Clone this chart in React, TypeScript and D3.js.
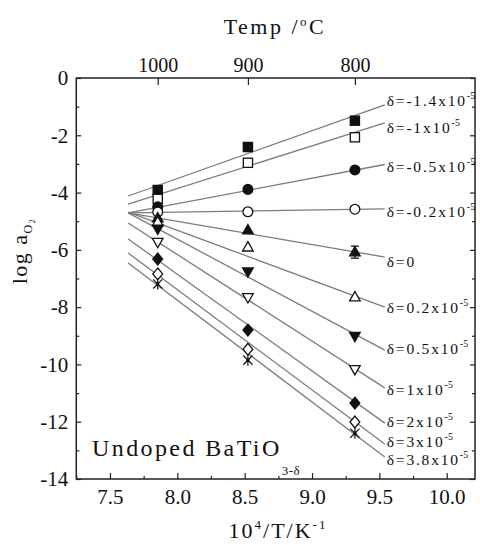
import { useEffect, useRef } from "react";
import * as d3 from "d3";

// Temperatures of the three measurement columns (°C) -> x = 10^4 / T(K)
const tempsC = [1000, 900, 800];

// oxygen non-stoichiometry of each series (x10^-5)
const deltas = ["-1.4", "-1", "-0.5", "-0.2", "0", "0.2", "0.5", "1", "2", "3", "3.8"];
const markerKinds = [
  "squareFilled", "squareOpen", "circleFilled", "circleOpen", "triFilled", "triOpen",
  "invFilled", "invOpen", "diamondFilled", "diamondOpen", "star",
];

// log a(O2), one value per series
const logA1000 = [-3.91, -4.22, -4.5, -4.68, -4.89, -5.03, -5.27, -5.73, -6.32, -6.84, -7.19];
const logA900 = [-2.41, -2.96, -3.89, -4.67, -5.31, -5.91, -6.76, -7.66, -8.8, -9.47, -9.85];
const logA800 = [-1.49, -2.07, -3.21, -4.58, -6.08, -7.65, -9.01, -10.17, -11.35, -12.01, -12.4];
const err800 = [0, 0, 0, 0, 0.21, 0, 0, 0, 0, 0, 0];

// fitted lines: value at the left end and at the right end (where the label sits)
const fitX = [7.635, 9.54];
const fitStart = [-4.12, -4.4, -4.71, -4.71, -4.71, -4.68, -4.71, -5.06, -5.62, -6.11, -6.46];
const fitEnd = [-0.94, -1.57, -3.02, -4.57, -6.25, -8.0, -9.5, -10.82, -12.05, -12.78, -13.23];

const xTicks = [7.5, 8.0, 8.5, 9.0, 9.5, 10.0];
const xMinor = [7.25, 7.75, 8.25, 8.75, 9.25, 9.75];
const yTicks = [0, -2, -4, -6, -8, -10, -12, -14];
const yMinor = [-1, -3, -5, -7, -9, -11, -13];

// vertical nudge (px) of each label against its line end
const labelNudge = [-4, 5, 1.5, 2.7, 4.7, 0.3, -1.7, 2, -1.3, -2.5, 3];

const FONT = "'Liberation Serif', 'Times New Roman', serif";
const INK = "#111";

const App = () => {
  const ref = useRef<SVGSVGElement | null>(null);

  useEffect(() => {
    if (!ref.current) return;
    dibujar(ref.current);
  }, []);

  const dibujar = (el: SVGSVGElement) => {
    const svg = d3.select(el);
    svg.selectAll("*").remove();

    const x = d3.scaleLinear().domain([7.25, 10.21]).range([76.3, 475]);
    const y = d3.scaleLinear().domain([0, -14]).range([78, 479]);
    const invT = (c: number) => 1e4 / (c + 273.15);

    const x0 = x.range()[0], x1 = x.range()[1];
    const y0 = y.range()[0], y1 = y.range()[1];

    const estilo = (g: any, size = 21) => {
      g.select(".domain").remove();
      g.selectAll(".tick line").attr("stroke", "#222").attr("stroke-width", 1.2);
      g.selectAll(".tick text")
        .attr("fill", INK)
        .style("font-family", FONT)
        .style("font-size", size + "px");
    };

    // bottom axis
    svg.append("g").attr("transform", `translate(0,${y1})`)
      .call(d3.axisBottom(x).tickValues(xMinor).tickSizeInner(-3).tickSizeOuter(0).tickFormat(() => ""))
      .call(estilo);
    svg.append("g").attr("transform", `translate(0,${y1})`)
      .call(d3.axisBottom(x).tickValues(xTicks).tickSizeInner(-6).tickSizeOuter(0).tickPadding(10)
        .tickFormat((d: any) => d3.format(".1f")(d)))
      .call(estilo);

    // left axis
    svg.append("g").attr("transform", `translate(${x0},0)`)
      .call(d3.axisLeft(y).tickValues(yMinor).tickSizeInner(-3).tickSizeOuter(0).tickFormat(() => ""))
      .call(estilo);
    svg.append("g").attr("transform", `translate(${x0},0)`)
      .call(d3.axisLeft(y).tickValues(yTicks).tickSizeInner(-5).tickSizeOuter(0).tickPadding(8)
        .tickFormat((d: any) => String(d)))
      .call(estilo);

    // right axis (ticks only)
    svg.append("g").attr("transform", `translate(${x1},0)`)
      .call(d3.axisRight(y).tickValues(yMinor).tickSizeInner(-3).tickSizeOuter(0).tickFormat(() => ""))
      .call(estilo);
    svg.append("g").attr("transform", `translate(${x1},0)`)
      .call(d3.axisRight(y).tickValues(yTicks).tickSizeInner(-5).tickSizeOuter(0).tickFormat(() => ""))
      .call(estilo);

    // top axis in °C
    svg.append("g").attr("transform", `translate(0,${y0})`)
      .call(d3.axisTop(x).tickValues(tempsC.map(invT)).tickSizeInner(-7).tickSizeOuter(0).tickPadding(6)
        .tickFormat((d: any, i: number) => String(tempsC[i])))
      .call((g: any) => estilo(g, 20));

    // frame
    svg.append("rect")
      .attr("x", x0).attr("y", y0)
      .attr("width", x1 - x0).attr("height", y1 - y0)
      .attr("fill", "none").attr("stroke", "#222").attr("stroke-width", 1.5);

    // fit lines
    const linea = d3.line<[number, number]>().x((d) => x(d[0])).y((d) => y(d[1]));
    deltas.forEach((_, i) => {
      svg.append("path")
        .attr("d", linea([[fitX[0], fitStart[i]], [fitX[1], fitEnd[i]]]))
        .attr("fill", "none")
        .attr("stroke", "#7c7c7c")
        .attr("stroke-width", 1.3);
    });

    // error bar
    deltas.forEach((_, i) => {
      if (!err800[i]) return;
      const cx = x(invT(tempsC[2]));
      const ya = y(logA800[i] + err800[i]);
      const yb = y(logA800[i] - err800[i]);
      const g = svg.append("g").attr("stroke", INK).attr("stroke-width", 1.3);
      g.append("line").attr("x1", cx).attr("x2", cx).attr("y1", ya).attr("y2", yb);
      g.append("line").attr("x1", cx - 4).attr("x2", cx + 4).attr("y1", ya).attr("y2", ya);
      g.append("line").attr("x1", cx - 4).attr("x2", cx + 4).attr("y1", yb).attr("y2", yb);
    });

    // markers
    const marcador = (kind: string, cx: number, cy: number) => {
      const filled = kind.endsWith("Filled");
      const g = svg.append("g").attr("transform", `translate(${cx},${cy})`);
      const fill = filled ? INK : "#fff";
      let shape: any;
      if (kind.startsWith("square")) {
        shape = g.append("rect").attr("x", -4.6).attr("y", -4.6).attr("width", 9.2).attr("height", 9.2);
      } else if (kind.startsWith("circle")) {
        shape = g.append("circle").attr("r", 4.9);
      } else if (kind.startsWith("tri")) {
        shape = g.append("path").attr("d", "M0,-5.6L5.3,3.7L-5.3,3.7Z");
      } else if (kind.startsWith("inv")) {
        shape = g.append("path").attr("d", "M0,5.6L5.3,-3.7L-5.3,-3.7Z");
      } else if (kind.startsWith("diamond")) {
        shape = g.append("path").attr("d", "M0,-5.9L4.9,0L0,5.9L-4.9,0Z");
      } else {
        g.append("path")
          .attr("d", "M-4.6,-4.6L4.6,4.6M-4.6,4.6L4.6,-4.6M0,-5.6L0,5.6")
          .attr("stroke", INK).attr("stroke-width", 1.2).attr("fill", "none");
        g.append("circle").attr("r", 1.6).attr("fill", INK);
        return;
      }
      shape.attr("fill", fill).attr("stroke", INK).attr("stroke-width", 1.3);
    };

    [logA1000, logA900, logA800].forEach((col, j) => {
      const cx = x(invT(tempsC[j]));
      col.forEach((v, i) => marcador(markerKinds[i], cx, y(v)));
    });

    // series labels
    deltas.forEach((d, i) => {
      const t = svg.append("text")
        .attr("x", x(fitX[1]) + 2)
        .attr("y", y(fitEnd[i]) + labelNudge[i] + 5.5)
        .attr("fill", INK)
        .style("font-family", FONT)
        .style("font-size", "15.5px")
        .style("letter-spacing", "1.8px");
      if (d === "0") {
        t.text("δ=0");
      } else {
        t.append("tspan").text(`δ=${d}x10`);
        t.append("tspan").attr("dy", -7).style("font-size", "10px").style("letter-spacing", "0px").text("-5");
      }
    });

    // sample name
    const nombre = svg.append("text")
      .attr("x", 92).attr("y", 456)
      .attr("fill", INK)
      .style("font-family", FONT)
      .style("font-size", "24px")
      .style("letter-spacing", "2.4px");
    nombre.append("tspan").text("Undoped BaTiO");
    nombre.append("tspan").attr("dy", 19).style("font-size", "13px").style("letter-spacing", "0.5px").text("3-δ");

    // top title
    const tTop = svg.append("text")
      .attr("x", 275).attr("y", 34)
      .attr("text-anchor", "middle")
      .attr("fill", INK)
      .style("font-family", FONT)
      .style("font-size", "22px")
      .style("letter-spacing", "2.5px");
    tTop.append("tspan").text("Temp /");
    tTop.append("tspan").attr("dy", -8).style("font-size", "13px").text("o");
    tTop.append("tspan").attr("dy", 8).text("C");

    // bottom title
    const tBot = svg.append("text")
      .attr("x", 278).attr("y", 538)
      .attr("text-anchor", "middle")
      .attr("fill", INK)
      .style("font-family", FONT)
      .style("font-size", "22px")
      .style("letter-spacing", "2px");
    tBot.append("tspan").text("10");
    tBot.append("tspan").attr("dy", -9).style("font-size", "13px").text("4");
    tBot.append("tspan").attr("dy", 9).text("/T/K");
    tBot.append("tspan").attr("dy", -9).style("font-size", "13px").text("-1");

    // left title
    const tLeft = svg.append("text")
      .attr("transform", "translate(27,251) rotate(-90)")
      .attr("text-anchor", "middle")
      .attr("fill", INK)
      .style("font-family", FONT)
      .style("font-size", "22px")
      .style("letter-spacing", "1.5px");
    tLeft.append("tspan").text("log a");
    tLeft.append("tspan").attr("dy", 5).style("font-size", "12px").text("O");
    tLeft.append("tspan").attr("dy", 3).style("font-size", "8px").text("2");
  };

  return (
    <svg
      ref={ref}
      width={480}
      height={545}
      style={{ position: "absolute", left: 0, top: 0, background: "#fff" }}
    />
  );
};

export default App;
